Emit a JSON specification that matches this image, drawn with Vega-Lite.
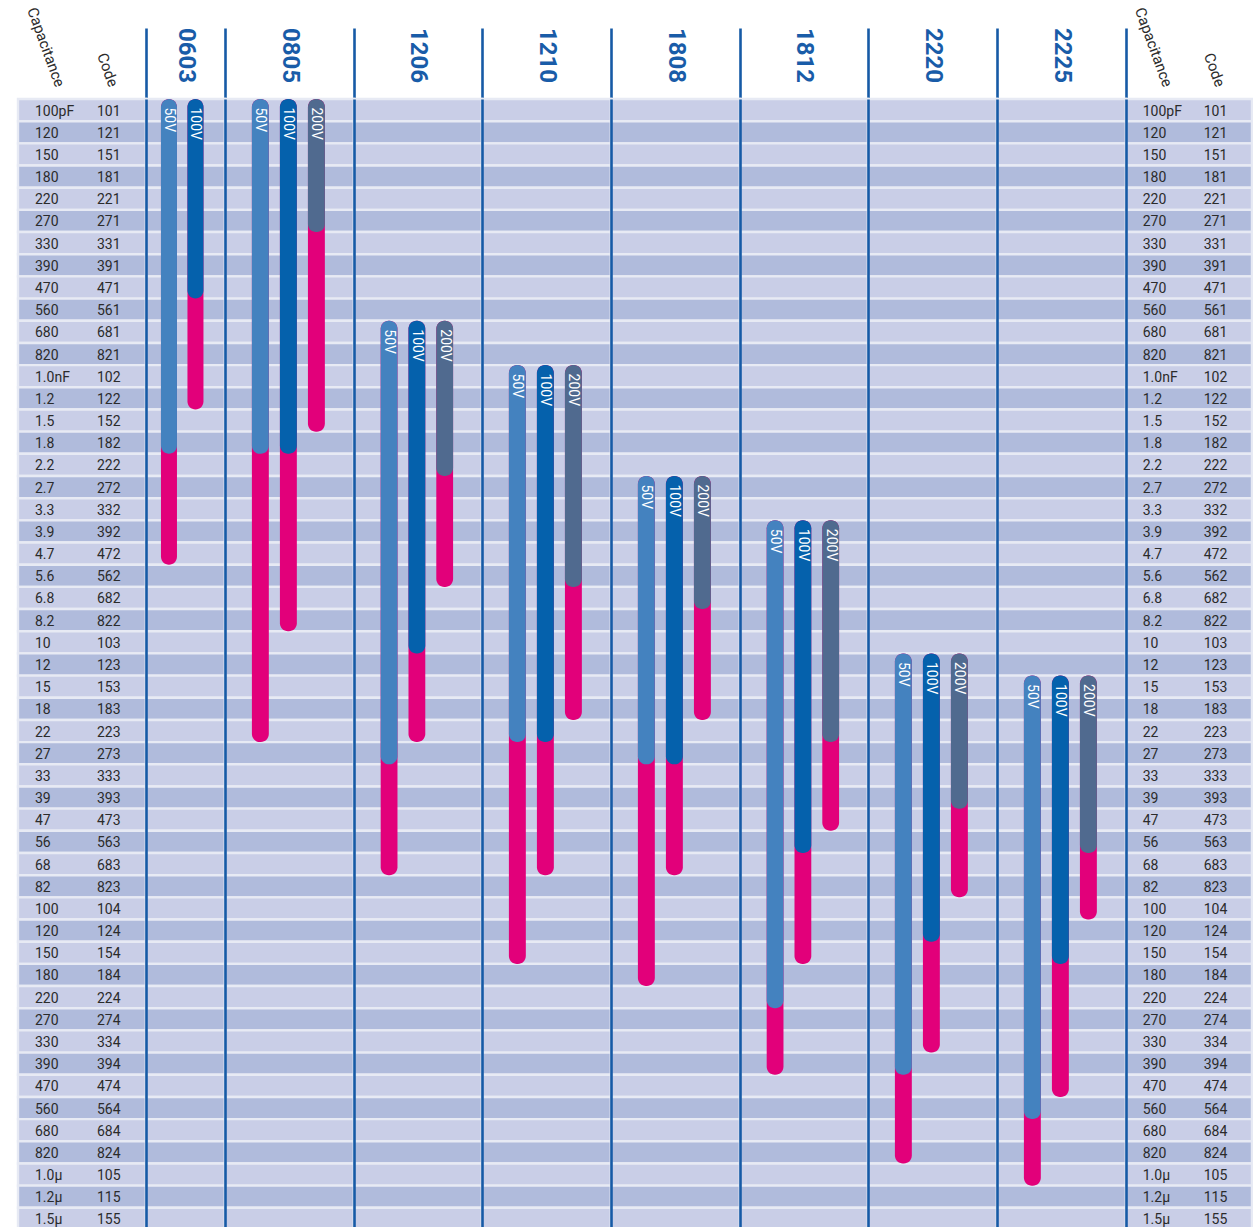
{
  "$schema": "https://vega.github.io/schema/vega-lite/v6.json",
  "background": "white",
  "padding": {"left": 16, "top": 0, "right": 0, "bottom": 0},
  "autosize": {"type": "pad"},
  "spacing": 0,
  "bounds": "flush",
  "align": "each",
  "columns": 10,
  "datasets": {
    "rows": [
      {"cap":"100pF","code":"101"},{"cap":"120","code":"121"},{"cap":"150","code":"151"},{"cap":"180","code":"181"},{"cap":"220","code":"221"},{"cap":"270","code":"271"},{"cap":"330","code":"331"},{"cap":"390","code":"391"},{"cap":"470","code":"471"},{"cap":"560","code":"561"},{"cap":"680","code":"681"},{"cap":"820","code":"821"},
      {"cap":"1.0nF","code":"102"},{"cap":"1.2","code":"122"},{"cap":"1.5","code":"152"},{"cap":"1.8","code":"182"},{"cap":"2.2","code":"222"},{"cap":"2.7","code":"272"},{"cap":"3.3","code":"332"},{"cap":"3.9","code":"392"},{"cap":"4.7","code":"472"},{"cap":"5.6","code":"562"},{"cap":"6.8","code":"682"},{"cap":"8.2","code":"822"},
      {"cap":"10","code":"103"},{"cap":"12","code":"123"},{"cap":"15","code":"153"},{"cap":"18","code":"183"},{"cap":"22","code":"223"},{"cap":"27","code":"273"},{"cap":"33","code":"333"},{"cap":"39","code":"393"},{"cap":"47","code":"473"},{"cap":"56","code":"563"},{"cap":"68","code":"683"},{"cap":"82","code":"823"},
      {"cap":"100","code":"104"},{"cap":"120","code":"124"},{"cap":"150","code":"154"},{"cap":"180","code":"184"},{"cap":"220","code":"224"},{"cap":"270","code":"274"},{"cap":"330","code":"334"},{"cap":"390","code":"394"},{"cap":"470","code":"474"},{"cap":"560","code":"564"},{"cap":"680","code":"684"},{"cap":"820","code":"824"},
      {"cap":"1.0µ","code":"105"},{"cap":"1.2µ","code":"115"},{"cap":"1.5µ","code":"155"}
    ],
    "bars": [
      {"size":"0603","v":"50V","from":"101","blue":"182","pink":"472"},
      {"size":"0603","v":"100V","from":"101","blue":"471","pink":"122"},
      {"size":"0805","v":"50V","from":"101","blue":"182","pink":"223"},
      {"size":"0805","v":"100V","from":"101","blue":"182","pink":"822"},
      {"size":"0805","v":"200V","from":"101","blue":"271","pink":"152"},
      {"size":"1206","v":"50V","from":"681","blue":"273","pink":"683"},
      {"size":"1206","v":"100V","from":"681","blue":"103","pink":"223"},
      {"size":"1206","v":"200V","from":"681","blue":"222","pink":"562"},
      {"size":"1210","v":"50V","from":"102","blue":"223","pink":"154"},
      {"size":"1210","v":"100V","from":"102","blue":"223","pink":"683"},
      {"size":"1210","v":"200V","from":"102","blue":"562","pink":"183"},
      {"size":"1808","v":"50V","from":"272","blue":"273","pink":"184"},
      {"size":"1808","v":"100V","from":"272","blue":"273","pink":"683"},
      {"size":"1808","v":"200V","from":"272","blue":"682","pink":"183"},
      {"size":"1812","v":"50V","from":"392","blue":"224","pink":"394"},
      {"size":"1812","v":"100V","from":"392","blue":"563","pink":"154"},
      {"size":"1812","v":"200V","from":"392","blue":"223","pink":"473"},
      {"size":"2220","v":"50V","from":"123","blue":"394","pink":"824"},
      {"size":"2220","v":"100V","from":"123","blue":"124","pink":"334"},
      {"size":"2220","v":"200V","from":"123","blue":"393","pink":"823"},
      {"size":"2225","v":"50V","from":"153","blue":"564","pink":"105"},
      {"size":"2225","v":"100V","from":"153","blue":"154","pink":"474"},
      {"size":"2225","v":"200V","from":"153","blue":"563","pink":"104"}
    ]
  },
  "concat": [
    {
      "width": 128, "height": 99,
      "data": {"values": [{"col": "Capacitance"}, {"col": "Code"}]},
      "layer": [
        {"transform": [{"filter": "datum.col === 'Capacitance'"}],
         "mark": {"type": "text", "angle": 70, "align": "right", "baseline": "alphabetic", "fontSize": 15, "color": "#2b2b2b", "xOffset": 20.5, "yOffset": -11},
         "encoding": {"text": {"field": "col"},
           "x": {"field": "col", "type": "nominal", "scale": {"type": "band", "domain": ["Capacitance", "Code"], "paddingInner": 0.483, "paddingOuter": 0.274}, "bandPosition": 0, "axis": null},
           "y": {"datum": "head", "type": "nominal", "scale": {"type": "band", "domain": ["head"], "range": [28, 99], "paddingInner": 0, "paddingOuter": 0}, "bandPosition": 1, "axis": null}}},
        {"transform": [{"filter": "datum.col === 'Code'"}],
         "mark": {"type": "text", "angle": 70, "align": "right", "baseline": "alphabetic", "fontSize": 15, "color": "#2b2b2b", "xOffset": 12, "yOffset": -11},
         "encoding": {"text": {"field": "col"},
           "x": {"field": "col", "type": "nominal", "scale": {"type": "band", "domain": ["Capacitance", "Code"], "paddingInner": 0.483, "paddingOuter": 0.274}, "bandPosition": 0, "axis": null},
           "y": {"datum": "head", "type": "nominal", "scale": {"type": "band", "domain": ["head"], "range": [28, 99], "paddingInner": 0, "paddingOuter": 0}, "bandPosition": 1, "axis": null}}}
      ]
    },
    {"width": 79, "height": 99, "data": {"values": [{"size": "0603"}]},
     "mark": {"type": "text", "angle": 90, "align": "left", "baseline": "middle", "fontSize": 24, "fontWeight": "bold", "color": "#195ca8"},
     "encoding": {"text": {"field": "size"}, "y": {"field": "size", "type": "nominal", "scale": {"type": "band", "range": [28, 99], "paddingInner": 0, "paddingOuter": 0}, "bandPosition": 0, "axis": {"title": null, "zindex": 1}}}},
    {"width": 129, "height": 99, "data": {"values": [{"size": "0805"}]},
     "mark": {"type": "text", "angle": 90, "align": "left", "baseline": "middle", "fontSize": 24, "fontWeight": "bold", "color": "#195ca8"},
     "encoding": {"text": {"field": "size"}, "y": {"field": "size", "type": "nominal", "scale": {"type": "band", "range": [28, 99], "paddingInner": 0, "paddingOuter": 0}, "bandPosition": 0, "axis": {"title": null, "zindex": 1}}}},
    {"width": 128, "height": 99, "data": {"values": [{"size": "1206"}]},
     "mark": {"type": "text", "angle": 90, "align": "left", "baseline": "middle", "fontSize": 24, "fontWeight": "bold", "color": "#195ca8"},
     "encoding": {"text": {"field": "size"}, "y": {"field": "size", "type": "nominal", "scale": {"type": "band", "range": [28, 99], "paddingInner": 0, "paddingOuter": 0}, "bandPosition": 0, "axis": {"title": null, "zindex": 1}}}},
    {"width": 129, "height": 99, "data": {"values": [{"size": "1210"}]},
     "mark": {"type": "text", "angle": 90, "align": "left", "baseline": "middle", "fontSize": 24, "fontWeight": "bold", "color": "#195ca8"},
     "encoding": {"text": {"field": "size"}, "y": {"field": "size", "type": "nominal", "scale": {"type": "band", "range": [28, 99], "paddingInner": 0, "paddingOuter": 0}, "bandPosition": 0, "axis": {"title": null, "zindex": 1}}}},
    {"width": 129, "height": 99, "data": {"values": [{"size": "1808"}]},
     "mark": {"type": "text", "angle": 90, "align": "left", "baseline": "middle", "fontSize": 24, "fontWeight": "bold", "color": "#195ca8"},
     "encoding": {"text": {"field": "size"}, "y": {"field": "size", "type": "nominal", "scale": {"type": "band", "range": [28, 99], "paddingInner": 0, "paddingOuter": 0}, "bandPosition": 0, "axis": {"title": null, "zindex": 1}}}},
    {"width": 128, "height": 99, "data": {"values": [{"size": "1812"}]},
     "mark": {"type": "text", "angle": 90, "align": "left", "baseline": "middle", "fontSize": 24, "fontWeight": "bold", "color": "#195ca8"},
     "encoding": {"text": {"field": "size"}, "y": {"field": "size", "type": "nominal", "scale": {"type": "band", "range": [28, 99], "paddingInner": 0, "paddingOuter": 0}, "bandPosition": 0, "axis": {"title": null, "zindex": 1}}}},
    {"width": 129, "height": 99, "data": {"values": [{"size": "2220"}]},
     "mark": {"type": "text", "angle": 90, "align": "left", "baseline": "middle", "fontSize": 24, "fontWeight": "bold", "color": "#195ca8"},
     "encoding": {"text": {"field": "size"}, "y": {"field": "size", "type": "nominal", "scale": {"type": "band", "range": [28, 99], "paddingInner": 0, "paddingOuter": 0}, "bandPosition": 0, "axis": {"title": null, "zindex": 1}}}},
    {"width": 129, "height": 99, "data": {"values": [{"size": "2225"}]},
     "mark": {"type": "text", "angle": 90, "align": "left", "baseline": "middle", "fontSize": 24, "fontWeight": "bold", "color": "#195ca8"},
     "encoding": {"text": {"field": "size"}, "y": {"field": "size", "type": "nominal", "scale": {"type": "band", "range": [28, 99], "paddingInner": 0, "paddingOuter": 0}, "bandPosition": 0, "axis": {"title": null, "zindex": 1}}}},
    {
      "width": 126, "height": 99,
      "data": {"values": [{"col": "Capacitance"}, {"col": "Code"}]},
      "layer": [
        {"transform": [{"filter": "datum.col === 'Capacitance'"}],
         "mark": {"type": "text", "angle": 70, "align": "right", "baseline": "alphabetic", "fontSize": 15, "color": "#2b2b2b", "xOffset": 20.5, "yOffset": -11},
         "encoding": {"text": {"field": "col"},
           "x": {"field": "col", "type": "nominal", "scale": {"type": "band", "domain": ["Capacitance", "Code"], "paddingInner": 0.483, "paddingOuter": 0.274}, "bandPosition": 0, "axis": null},
           "y": {"datum": "head", "type": "nominal", "scale": {"type": "band", "domain": ["head"], "range": [28, 99], "paddingInner": 0, "paddingOuter": 0}, "bandPosition": 1, "axis": {"title": null, "zindex": 1}}}},
        {"transform": [{"filter": "datum.col === 'Code'"}],
         "mark": {"type": "text", "angle": 70, "align": "right", "baseline": "alphabetic", "fontSize": 15, "color": "#2b2b2b", "xOffset": 12, "yOffset": -11},
         "encoding": {"text": {"field": "col"},
           "x": {"field": "col", "type": "nominal", "scale": {"type": "band", "domain": ["Capacitance", "Code"], "paddingInner": 0.483, "paddingOuter": 0.274}, "bandPosition": 0, "axis": null},
           "y": {"datum": "head", "type": "nominal", "scale": {"type": "band", "domain": ["head"], "range": [28, 99], "paddingInner": 0, "paddingOuter": 0}, "bandPosition": 1, "axis": {"title": null, "zindex": 1}}}}
      ]
    },
    {
      "width": 128, "height": 1131,
      "data": {"name": "rows"},
      "layer": [
        {"mark": {"type": "rect", "stroke": "#e7eaf4", "strokeWidth": 2.4},
         "encoding": {
           "y": {"field": "code", "type": "nominal", "scale": {"type": "band", "domain": ["101","121","151","181","221","271","331","391","471","561","681","821","102","122","152","182","222","272","332","392","472","562","682","822","103","123","153","183","223","273","333","393","473","563","683","823","104","124","154","184","224","274","334","394","474","564","684","824","105","115","155"], "paddingInner": 0, "paddingOuter": 0}, "axis": null},
           "fill": {"field": "code", "type": "nominal", "scale": {"domain": ["101","121","151","181","221","271","331","391","471","561","681","821","102","122","152","182","222","272","332","392","472","562","682","822","103","123","153","183","223","273","333","393","473","563","683","823","104","124","154","184","224","274","334","394","474","564","684","824","105","115","155"], "range": ["#c9cee7", "#b0bbdc"]}, "legend": null}}},
        {"mark": {"type": "text", "align": "left", "baseline": "middle", "dy": 1.5, "fontSize": 14, "color": "#2b2b2b"},
         "encoding": {
           "x": {"datum": "Capacitance", "type": "nominal", "scale": {"type": "band", "domain": ["Capacitance", "Code"], "paddingInner": 0.483, "paddingOuter": 0.274}, "bandPosition": 0, "axis": null},
           "y": {"field": "code", "type": "nominal", "scale": {"type": "band"}, "axis": null},
           "text": {"field": "cap"}}},
        {"mark": {"type": "text", "align": "left", "baseline": "middle", "dy": 1.5, "fontSize": 14, "color": "#2b2b2b"},
         "encoding": {
           "x": {"datum": "Code", "type": "nominal", "scale": {"type": "band", "domain": ["Capacitance", "Code"], "paddingInner": 0.483, "paddingOuter": 0.274}, "bandPosition": 0, "axis": null},
           "y": {"field": "code", "type": "nominal", "scale": {"type": "band"}, "axis": null},
           "text": {"field": "code"}}}
      ]
    },
    {
      "width": 79, "height": 1131,
      "layer": [
        {"data": {"name": "rows"},
         "mark": {"type": "rect", "stroke": "#e7eaf4", "strokeWidth": 2.4},
         "encoding": {
           "y": {"field": "code", "type": "nominal", "scale": {"type": "band", "domain": ["101","121","151","181","221","271","331","391","471","561","681","821","102","122","152","182","222","272","332","392","472","562","682","822","103","123","153","183","223","273","333","393","473","563","683","823","104","124","154","184","224","274","334","394","474","564","684","824","105","115","155"], "paddingInner": 0, "paddingOuter": 0}, "axis": {"title": null, "zindex": 1}},
           "fill": {"field": "code", "type": "nominal", "scale": {"domain": ["101","121","151","181","221","271","331","391","471","561","681","821","102","122","152","182","222","272","332","392","472","562","682","822","103","123","153","183","223","273","333","393","473","563","683","823","104","124","154","184","224","274","334","394","474","564","684","824","105","115","155"], "range": ["#c9cee7", "#b0bbdc"]}, "legend": null}}},
        {"data": {"name": "bars"}, "transform": [{"filter": "datum.size === '0603'"}],
         "mark": {"type": "rect", "color": "#e2007a", "cornerRadius": 8},
         "encoding": {
           "x": {"field": "v", "type": "nominal", "scale": {"type": "band", "domain": ["50V", "100V"], "paddingInner": 0.396, "paddingOuter": 0.689, "align": 0.41}, "axis": null},
           "y": {"field": "from", "type": "nominal", "scale": {"type": "band"}, "bandPosition": 0, "axis": {"title": null, "zindex": 1}},
           "y2": {"field": "pink", "bandPosition": 1}}},
        {"data": {"name": "bars"}, "transform": [{"filter": "datum.size === '0603'"}],
         "mark": {"type": "rect", "cornerRadius": 8},
         "encoding": {
           "x": {"field": "v", "type": "nominal", "scale": {"type": "band", "domain": ["50V", "100V"], "paddingInner": 0.396, "paddingOuter": 0.689, "align": 0.41}, "axis": null},
           "y": {"field": "from", "type": "nominal", "scale": {"type": "band"}, "bandPosition": 0, "axis": {"title": null, "zindex": 1}},
           "y2": {"field": "blue", "bandPosition": 1},
           "color": {"field": "v", "type": "nominal", "scale": {"domain": ["50V", "100V", "200V"], "range": ["#4482bf", "#0561ac", "#506a8f"]}, "legend": null}}},
        {"data": {"name": "bars"}, "transform": [{"filter": "datum.size === '0603'"}],
         "mark": {"type": "text", "angle": 90, "align": "left", "baseline": "middle", "dx": 8.5, "fontSize": 14, "color": "#ffffff"},
         "encoding": {
           "x": {"field": "v", "type": "nominal", "scale": {"type": "band", "domain": ["50V", "100V"], "paddingInner": 0.396, "paddingOuter": 0.689, "align": 0.41}, "axis": null},
           "y": {"field": "from", "type": "nominal", "scale": {"type": "band"}, "bandPosition": 0, "axis": {"title": null, "zindex": 1}},
           "text": {"field": "v"}}}
      ]
    },
    {
      "width": 129, "height": 1131,
      "layer": [
        {"data": {"name": "rows"},
         "mark": {"type": "rect", "stroke": "#e7eaf4", "strokeWidth": 2.4},
         "encoding": {
           "y": {"field": "code", "type": "nominal", "scale": {"type": "band", "domain": ["101","121","151","181","221","271","331","391","471","561","681","821","102","122","152","182","222","272","332","392","472","562","682","822","103","123","153","183","223","273","333","393","473","563","683","823","104","124","154","184","224","274","334","394","474","564","684","824","105","115","155"], "paddingInner": 0, "paddingOuter": 0}, "axis": {"title": null, "zindex": 1}},
           "fill": {"field": "code", "type": "nominal", "scale": {"domain": ["101","121","151","181","221","271","331","391","471","561","681","821","102","122","152","182","222","272","332","392","472","562","682","822","103","123","153","183","223","273","333","393","473","563","683","823","104","124","154","184","224","274","334","394","474","564","684","824","105","115","155"], "range": ["#c9cee7", "#b0bbdc"]}, "legend": null}}},
        {"data": {"name": "bars"}, "transform": [{"filter": "datum.size === '0805'"}],
         "mark": {"type": "rect", "color": "#e2007a", "cornerRadius": 8},
         "encoding": {
           "x": {"field": "v", "type": "nominal", "scale": {"type": "band", "domain": ["50V", "100V", "200V"], "paddingInner": 0.396, "paddingOuter": 1.132, "align": 0.48}, "axis": null},
           "y": {"field": "from", "type": "nominal", "scale": {"type": "band"}, "bandPosition": 0, "axis": {"title": null, "zindex": 1}},
           "y2": {"field": "pink", "bandPosition": 1}}},
        {"data": {"name": "bars"}, "transform": [{"filter": "datum.size === '0805'"}],
         "mark": {"type": "rect", "cornerRadius": 8},
         "encoding": {
           "x": {"field": "v", "type": "nominal", "scale": {"type": "band", "domain": ["50V", "100V", "200V"], "paddingInner": 0.396, "paddingOuter": 1.132, "align": 0.48}, "axis": null},
           "y": {"field": "from", "type": "nominal", "scale": {"type": "band"}, "bandPosition": 0, "axis": {"title": null, "zindex": 1}},
           "y2": {"field": "blue", "bandPosition": 1},
           "color": {"field": "v", "type": "nominal", "scale": {"domain": ["50V", "100V", "200V"], "range": ["#4482bf", "#0561ac", "#506a8f"]}, "legend": null}}},
        {"data": {"name": "bars"}, "transform": [{"filter": "datum.size === '0805'"}],
         "mark": {"type": "text", "angle": 90, "align": "left", "baseline": "middle", "dx": 8.5, "fontSize": 14, "color": "#ffffff"},
         "encoding": {
           "x": {"field": "v", "type": "nominal", "scale": {"type": "band", "domain": ["50V", "100V", "200V"], "paddingInner": 0.396, "paddingOuter": 1.132, "align": 0.48}, "axis": null},
           "y": {"field": "from", "type": "nominal", "scale": {"type": "band"}, "bandPosition": 0, "axis": {"title": null, "zindex": 1}},
           "text": {"field": "v"}}}
      ]
    },
    {
      "width": 128, "height": 1131,
      "layer": [
        {"data": {"name": "rows"},
         "mark": {"type": "rect", "stroke": "#e7eaf4", "strokeWidth": 2.4},
         "encoding": {
           "y": {"field": "code", "type": "nominal", "scale": {"type": "band", "domain": ["101","121","151","181","221","271","331","391","471","561","681","821","102","122","152","182","222","272","332","392","472","562","682","822","103","123","153","183","223","273","333","393","473","563","683","823","104","124","154","184","224","274","334","394","474","564","684","824","105","115","155"], "paddingInner": 0, "paddingOuter": 0}, "axis": {"title": null, "zindex": 1}},
           "fill": {"field": "code", "type": "nominal", "scale": {"domain": ["101","121","151","181","221","271","331","391","471","561","681","821","102","122","152","182","222","272","332","392","472","562","682","822","103","123","153","183","223","273","333","393","473","563","683","823","104","124","154","184","224","274","334","394","474","564","684","824","105","115","155"], "range": ["#c9cee7", "#b0bbdc"]}, "legend": null}}},
        {"data": {"name": "bars"}, "transform": [{"filter": "datum.size === '1206'"}],
         "mark": {"type": "rect", "color": "#e2007a", "cornerRadius": 8},
         "encoding": {
           "x": {"field": "v", "type": "nominal", "scale": {"type": "band", "domain": ["50V", "100V", "200V"], "paddingInner": 0.396, "paddingOuter": 1.132, "align": 0.48}, "axis": null},
           "y": {"field": "from", "type": "nominal", "scale": {"type": "band"}, "bandPosition": 0, "axis": {"title": null, "zindex": 1}},
           "y2": {"field": "pink", "bandPosition": 1}}},
        {"data": {"name": "bars"}, "transform": [{"filter": "datum.size === '1206'"}],
         "mark": {"type": "rect", "cornerRadius": 8},
         "encoding": {
           "x": {"field": "v", "type": "nominal", "scale": {"type": "band", "domain": ["50V", "100V", "200V"], "paddingInner": 0.396, "paddingOuter": 1.132, "align": 0.48}, "axis": null},
           "y": {"field": "from", "type": "nominal", "scale": {"type": "band"}, "bandPosition": 0, "axis": {"title": null, "zindex": 1}},
           "y2": {"field": "blue", "bandPosition": 1},
           "color": {"field": "v", "type": "nominal", "scale": {"domain": ["50V", "100V", "200V"], "range": ["#4482bf", "#0561ac", "#506a8f"]}, "legend": null}}},
        {"data": {"name": "bars"}, "transform": [{"filter": "datum.size === '1206'"}],
         "mark": {"type": "text", "angle": 90, "align": "left", "baseline": "middle", "dx": 8.5, "fontSize": 14, "color": "#ffffff"},
         "encoding": {
           "x": {"field": "v", "type": "nominal", "scale": {"type": "band", "domain": ["50V", "100V", "200V"], "paddingInner": 0.396, "paddingOuter": 1.132, "align": 0.48}, "axis": null},
           "y": {"field": "from", "type": "nominal", "scale": {"type": "band"}, "bandPosition": 0, "axis": {"title": null, "zindex": 1}},
           "text": {"field": "v"}}}
      ]
    },
    {
      "width": 129, "height": 1131,
      "layer": [
        {"data": {"name": "rows"},
         "mark": {"type": "rect", "stroke": "#e7eaf4", "strokeWidth": 2.4},
         "encoding": {
           "y": {"field": "code", "type": "nominal", "scale": {"type": "band", "domain": ["101","121","151","181","221","271","331","391","471","561","681","821","102","122","152","182","222","272","332","392","472","562","682","822","103","123","153","183","223","273","333","393","473","563","683","823","104","124","154","184","224","274","334","394","474","564","684","824","105","115","155"], "paddingInner": 0, "paddingOuter": 0}, "axis": {"title": null, "zindex": 1}},
           "fill": {"field": "code", "type": "nominal", "scale": {"domain": ["101","121","151","181","221","271","331","391","471","561","681","821","102","122","152","182","222","272","332","392","472","562","682","822","103","123","153","183","223","273","333","393","473","563","683","823","104","124","154","184","224","274","334","394","474","564","684","824","105","115","155"], "range": ["#c9cee7", "#b0bbdc"]}, "legend": null}}},
        {"data": {"name": "bars"}, "transform": [{"filter": "datum.size === '1210'"}],
         "mark": {"type": "rect", "color": "#e2007a", "cornerRadius": 8},
         "encoding": {
           "x": {"field": "v", "type": "nominal", "scale": {"type": "band", "domain": ["50V", "100V", "200V"], "paddingInner": 0.396, "paddingOuter": 1.132, "align": 0.48}, "axis": null},
           "y": {"field": "from", "type": "nominal", "scale": {"type": "band"}, "bandPosition": 0, "axis": {"title": null, "zindex": 1}},
           "y2": {"field": "pink", "bandPosition": 1}}},
        {"data": {"name": "bars"}, "transform": [{"filter": "datum.size === '1210'"}],
         "mark": {"type": "rect", "cornerRadius": 8},
         "encoding": {
           "x": {"field": "v", "type": "nominal", "scale": {"type": "band", "domain": ["50V", "100V", "200V"], "paddingInner": 0.396, "paddingOuter": 1.132, "align": 0.48}, "axis": null},
           "y": {"field": "from", "type": "nominal", "scale": {"type": "band"}, "bandPosition": 0, "axis": {"title": null, "zindex": 1}},
           "y2": {"field": "blue", "bandPosition": 1},
           "color": {"field": "v", "type": "nominal", "scale": {"domain": ["50V", "100V", "200V"], "range": ["#4482bf", "#0561ac", "#506a8f"]}, "legend": null}}},
        {"data": {"name": "bars"}, "transform": [{"filter": "datum.size === '1210'"}],
         "mark": {"type": "text", "angle": 90, "align": "left", "baseline": "middle", "dx": 8.5, "fontSize": 14, "color": "#ffffff"},
         "encoding": {
           "x": {"field": "v", "type": "nominal", "scale": {"type": "band", "domain": ["50V", "100V", "200V"], "paddingInner": 0.396, "paddingOuter": 1.132, "align": 0.48}, "axis": null},
           "y": {"field": "from", "type": "nominal", "scale": {"type": "band"}, "bandPosition": 0, "axis": {"title": null, "zindex": 1}},
           "text": {"field": "v"}}}
      ]
    },
    {
      "width": 129, "height": 1131,
      "layer": [
        {"data": {"name": "rows"},
         "mark": {"type": "rect", "stroke": "#e7eaf4", "strokeWidth": 2.4},
         "encoding": {
           "y": {"field": "code", "type": "nominal", "scale": {"type": "band", "domain": ["101","121","151","181","221","271","331","391","471","561","681","821","102","122","152","182","222","272","332","392","472","562","682","822","103","123","153","183","223","273","333","393","473","563","683","823","104","124","154","184","224","274","334","394","474","564","684","824","105","115","155"], "paddingInner": 0, "paddingOuter": 0}, "axis": {"title": null, "zindex": 1}},
           "fill": {"field": "code", "type": "nominal", "scale": {"domain": ["101","121","151","181","221","271","331","391","471","561","681","821","102","122","152","182","222","272","332","392","472","562","682","822","103","123","153","183","223","273","333","393","473","563","683","823","104","124","154","184","224","274","334","394","474","564","684","824","105","115","155"], "range": ["#c9cee7", "#b0bbdc"]}, "legend": null}}},
        {"data": {"name": "bars"}, "transform": [{"filter": "datum.size === '1808'"}],
         "mark": {"type": "rect", "color": "#e2007a", "cornerRadius": 8},
         "encoding": {
           "x": {"field": "v", "type": "nominal", "scale": {"type": "band", "domain": ["50V", "100V", "200V"], "paddingInner": 0.396, "paddingOuter": 1.132, "align": 0.48}, "axis": null},
           "y": {"field": "from", "type": "nominal", "scale": {"type": "band"}, "bandPosition": 0, "axis": {"title": null, "zindex": 1}},
           "y2": {"field": "pink", "bandPosition": 1}}},
        {"data": {"name": "bars"}, "transform": [{"filter": "datum.size === '1808'"}],
         "mark": {"type": "rect", "cornerRadius": 8},
         "encoding": {
           "x": {"field": "v", "type": "nominal", "scale": {"type": "band", "domain": ["50V", "100V", "200V"], "paddingInner": 0.396, "paddingOuter": 1.132, "align": 0.48}, "axis": null},
           "y": {"field": "from", "type": "nominal", "scale": {"type": "band"}, "bandPosition": 0, "axis": {"title": null, "zindex": 1}},
           "y2": {"field": "blue", "bandPosition": 1},
           "color": {"field": "v", "type": "nominal", "scale": {"domain": ["50V", "100V", "200V"], "range": ["#4482bf", "#0561ac", "#506a8f"]}, "legend": null}}},
        {"data": {"name": "bars"}, "transform": [{"filter": "datum.size === '1808'"}],
         "mark": {"type": "text", "angle": 90, "align": "left", "baseline": "middle", "dx": 8.5, "fontSize": 14, "color": "#ffffff"},
         "encoding": {
           "x": {"field": "v", "type": "nominal", "scale": {"type": "band", "domain": ["50V", "100V", "200V"], "paddingInner": 0.396, "paddingOuter": 1.132, "align": 0.48}, "axis": null},
           "y": {"field": "from", "type": "nominal", "scale": {"type": "band"}, "bandPosition": 0, "axis": {"title": null, "zindex": 1}},
           "text": {"field": "v"}}}
      ]
    },
    {
      "width": 128, "height": 1131,
      "layer": [
        {"data": {"name": "rows"},
         "mark": {"type": "rect", "stroke": "#e7eaf4", "strokeWidth": 2.4},
         "encoding": {
           "y": {"field": "code", "type": "nominal", "scale": {"type": "band", "domain": ["101","121","151","181","221","271","331","391","471","561","681","821","102","122","152","182","222","272","332","392","472","562","682","822","103","123","153","183","223","273","333","393","473","563","683","823","104","124","154","184","224","274","334","394","474","564","684","824","105","115","155"], "paddingInner": 0, "paddingOuter": 0}, "axis": {"title": null, "zindex": 1}},
           "fill": {"field": "code", "type": "nominal", "scale": {"domain": ["101","121","151","181","221","271","331","391","471","561","681","821","102","122","152","182","222","272","332","392","472","562","682","822","103","123","153","183","223","273","333","393","473","563","683","823","104","124","154","184","224","274","334","394","474","564","684","824","105","115","155"], "range": ["#c9cee7", "#b0bbdc"]}, "legend": null}}},
        {"data": {"name": "bars"}, "transform": [{"filter": "datum.size === '1812'"}],
         "mark": {"type": "rect", "color": "#e2007a", "cornerRadius": 8},
         "encoding": {
           "x": {"field": "v", "type": "nominal", "scale": {"type": "band", "domain": ["50V", "100V", "200V"], "paddingInner": 0.396, "paddingOuter": 1.132, "align": 0.48}, "axis": null},
           "y": {"field": "from", "type": "nominal", "scale": {"type": "band"}, "bandPosition": 0, "axis": {"title": null, "zindex": 1}},
           "y2": {"field": "pink", "bandPosition": 1}}},
        {"data": {"name": "bars"}, "transform": [{"filter": "datum.size === '1812'"}],
         "mark": {"type": "rect", "cornerRadius": 8},
         "encoding": {
           "x": {"field": "v", "type": "nominal", "scale": {"type": "band", "domain": ["50V", "100V", "200V"], "paddingInner": 0.396, "paddingOuter": 1.132, "align": 0.48}, "axis": null},
           "y": {"field": "from", "type": "nominal", "scale": {"type": "band"}, "bandPosition": 0, "axis": {"title": null, "zindex": 1}},
           "y2": {"field": "blue", "bandPosition": 1},
           "color": {"field": "v", "type": "nominal", "scale": {"domain": ["50V", "100V", "200V"], "range": ["#4482bf", "#0561ac", "#506a8f"]}, "legend": null}}},
        {"data": {"name": "bars"}, "transform": [{"filter": "datum.size === '1812'"}],
         "mark": {"type": "text", "angle": 90, "align": "left", "baseline": "middle", "dx": 8.5, "fontSize": 14, "color": "#ffffff"},
         "encoding": {
           "x": {"field": "v", "type": "nominal", "scale": {"type": "band", "domain": ["50V", "100V", "200V"], "paddingInner": 0.396, "paddingOuter": 1.132, "align": 0.48}, "axis": null},
           "y": {"field": "from", "type": "nominal", "scale": {"type": "band"}, "bandPosition": 0, "axis": {"title": null, "zindex": 1}},
           "text": {"field": "v"}}}
      ]
    },
    {
      "width": 129, "height": 1131,
      "layer": [
        {"data": {"name": "rows"},
         "mark": {"type": "rect", "stroke": "#e7eaf4", "strokeWidth": 2.4},
         "encoding": {
           "y": {"field": "code", "type": "nominal", "scale": {"type": "band", "domain": ["101","121","151","181","221","271","331","391","471","561","681","821","102","122","152","182","222","272","332","392","472","562","682","822","103","123","153","183","223","273","333","393","473","563","683","823","104","124","154","184","224","274","334","394","474","564","684","824","105","115","155"], "paddingInner": 0, "paddingOuter": 0}, "axis": {"title": null, "zindex": 1}},
           "fill": {"field": "code", "type": "nominal", "scale": {"domain": ["101","121","151","181","221","271","331","391","471","561","681","821","102","122","152","182","222","272","332","392","472","562","682","822","103","123","153","183","223","273","333","393","473","563","683","823","104","124","154","184","224","274","334","394","474","564","684","824","105","115","155"], "range": ["#c9cee7", "#b0bbdc"]}, "legend": null}}},
        {"data": {"name": "bars"}, "transform": [{"filter": "datum.size === '2220'"}],
         "mark": {"type": "rect", "color": "#e2007a", "cornerRadius": 8},
         "encoding": {
           "x": {"field": "v", "type": "nominal", "scale": {"type": "band", "domain": ["50V", "100V", "200V"], "paddingInner": 0.396, "paddingOuter": 1.132, "align": 0.48}, "axis": null},
           "y": {"field": "from", "type": "nominal", "scale": {"type": "band"}, "bandPosition": 0, "axis": {"title": null, "zindex": 1}},
           "y2": {"field": "pink", "bandPosition": 1}}},
        {"data": {"name": "bars"}, "transform": [{"filter": "datum.size === '2220'"}],
         "mark": {"type": "rect", "cornerRadius": 8},
         "encoding": {
           "x": {"field": "v", "type": "nominal", "scale": {"type": "band", "domain": ["50V", "100V", "200V"], "paddingInner": 0.396, "paddingOuter": 1.132, "align": 0.48}, "axis": null},
           "y": {"field": "from", "type": "nominal", "scale": {"type": "band"}, "bandPosition": 0, "axis": {"title": null, "zindex": 1}},
           "y2": {"field": "blue", "bandPosition": 1},
           "color": {"field": "v", "type": "nominal", "scale": {"domain": ["50V", "100V", "200V"], "range": ["#4482bf", "#0561ac", "#506a8f"]}, "legend": null}}},
        {"data": {"name": "bars"}, "transform": [{"filter": "datum.size === '2220'"}],
         "mark": {"type": "text", "angle": 90, "align": "left", "baseline": "middle", "dx": 8.5, "fontSize": 14, "color": "#ffffff"},
         "encoding": {
           "x": {"field": "v", "type": "nominal", "scale": {"type": "band", "domain": ["50V", "100V", "200V"], "paddingInner": 0.396, "paddingOuter": 1.132, "align": 0.48}, "axis": null},
           "y": {"field": "from", "type": "nominal", "scale": {"type": "band"}, "bandPosition": 0, "axis": {"title": null, "zindex": 1}},
           "text": {"field": "v"}}}
      ]
    },
    {
      "width": 129, "height": 1131,
      "layer": [
        {"data": {"name": "rows"},
         "mark": {"type": "rect", "stroke": "#e7eaf4", "strokeWidth": 2.4},
         "encoding": {
           "y": {"field": "code", "type": "nominal", "scale": {"type": "band", "domain": ["101","121","151","181","221","271","331","391","471","561","681","821","102","122","152","182","222","272","332","392","472","562","682","822","103","123","153","183","223","273","333","393","473","563","683","823","104","124","154","184","224","274","334","394","474","564","684","824","105","115","155"], "paddingInner": 0, "paddingOuter": 0}, "axis": {"title": null, "zindex": 1}},
           "fill": {"field": "code", "type": "nominal", "scale": {"domain": ["101","121","151","181","221","271","331","391","471","561","681","821","102","122","152","182","222","272","332","392","472","562","682","822","103","123","153","183","223","273","333","393","473","563","683","823","104","124","154","184","224","274","334","394","474","564","684","824","105","115","155"], "range": ["#c9cee7", "#b0bbdc"]}, "legend": null}}},
        {"data": {"name": "bars"}, "transform": [{"filter": "datum.size === '2225'"}],
         "mark": {"type": "rect", "color": "#e2007a", "cornerRadius": 8},
         "encoding": {
           "x": {"field": "v", "type": "nominal", "scale": {"type": "band", "domain": ["50V", "100V", "200V"], "paddingInner": 0.396, "paddingOuter": 1.132, "align": 0.48}, "axis": null},
           "y": {"field": "from", "type": "nominal", "scale": {"type": "band"}, "bandPosition": 0, "axis": {"title": null, "zindex": 1}},
           "y2": {"field": "pink", "bandPosition": 1}}},
        {"data": {"name": "bars"}, "transform": [{"filter": "datum.size === '2225'"}],
         "mark": {"type": "rect", "cornerRadius": 8},
         "encoding": {
           "x": {"field": "v", "type": "nominal", "scale": {"type": "band", "domain": ["50V", "100V", "200V"], "paddingInner": 0.396, "paddingOuter": 1.132, "align": 0.48}, "axis": null},
           "y": {"field": "from", "type": "nominal", "scale": {"type": "band"}, "bandPosition": 0, "axis": {"title": null, "zindex": 1}},
           "y2": {"field": "blue", "bandPosition": 1},
           "color": {"field": "v", "type": "nominal", "scale": {"domain": ["50V", "100V", "200V"], "range": ["#4482bf", "#0561ac", "#506a8f"]}, "legend": null}}},
        {"data": {"name": "bars"}, "transform": [{"filter": "datum.size === '2225'"}],
         "mark": {"type": "text", "angle": 90, "align": "left", "baseline": "middle", "dx": 8.5, "fontSize": 14, "color": "#ffffff"},
         "encoding": {
           "x": {"field": "v", "type": "nominal", "scale": {"type": "band", "domain": ["50V", "100V", "200V"], "paddingInner": 0.396, "paddingOuter": 1.132, "align": 0.48}, "axis": null},
           "y": {"field": "from", "type": "nominal", "scale": {"type": "band"}, "bandPosition": 0, "axis": {"title": null, "zindex": 1}},
           "text": {"field": "v"}}}
      ]
    },
    {
      "width": 126, "height": 1131,
      "data": {"name": "rows"},
      "layer": [
        {"mark": {"type": "rect", "stroke": "#e7eaf4", "strokeWidth": 2.4},
         "encoding": {
           "y": {"field": "code", "type": "nominal", "scale": {"type": "band", "domain": ["101","121","151","181","221","271","331","391","471","561","681","821","102","122","152","182","222","272","332","392","472","562","682","822","103","123","153","183","223","273","333","393","473","563","683","823","104","124","154","184","224","274","334","394","474","564","684","824","105","115","155"], "paddingInner": 0, "paddingOuter": 0}, "axis": {"title": null, "zindex": 1}},
           "fill": {"field": "code", "type": "nominal", "scale": {"domain": ["101","121","151","181","221","271","331","391","471","561","681","821","102","122","152","182","222","272","332","392","472","562","682","822","103","123","153","183","223","273","333","393","473","563","683","823","104","124","154","184","224","274","334","394","474","564","684","824","105","115","155"], "range": ["#c9cee7", "#b0bbdc"]}, "legend": null}}},
        {"mark": {"type": "text", "align": "left", "baseline": "middle", "dy": 1.5, "fontSize": 14, "color": "#2b2b2b"},
         "encoding": {
           "x": {"datum": "Capacitance", "type": "nominal", "scale": {"type": "band", "domain": ["Capacitance", "Code"], "paddingInner": 0.483, "paddingOuter": 0.274}, "bandPosition": 0, "axis": null},
           "y": {"field": "code", "type": "nominal", "scale": {"type": "band"}, "axis": {"title": null, "zindex": 1}},
           "text": {"field": "cap"}}},
        {"mark": {"type": "text", "align": "left", "baseline": "middle", "dy": 1.5, "fontSize": 14, "color": "#2b2b2b"},
         "encoding": {
           "x": {"datum": "Code", "type": "nominal", "scale": {"type": "band", "domain": ["Capacitance", "Code"], "paddingInner": 0.483, "paddingOuter": 0.274}, "bandPosition": 0, "axis": null},
           "y": {"field": "code", "type": "nominal", "scale": {"type": "band"}, "axis": {"title": null, "zindex": 1}},
           "text": {"field": "code"}}}
      ]
    }
  ],
  "config": {
    "font": "Roboto",
    "view": {"stroke": null},
    "axisY": {"domain": true, "domainColor": "#165aa6", "domainWidth": 2.6, "ticks": false, "labels": false, "grid": false, "zindex": 1}
  }
}
